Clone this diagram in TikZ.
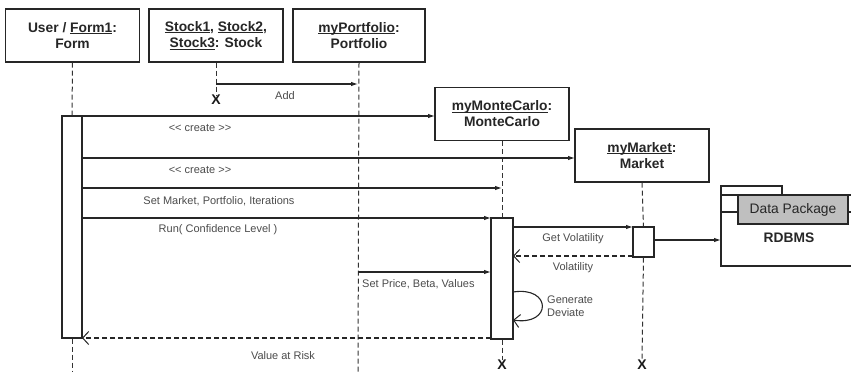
\documentclass[tikz,border=0pt]{standalone}
\usepackage{fontspec}
\setmainfont{Liberation Sans}
\usetikzlibrary{arrows.meta}
\newcommand\myul[1]{\setbox0\hbox{#1}\rlap{\rule[-1.6pt]{\wd0}{0.8pt}}\box0}
\begin{document}
\begin{tikzpicture}[x=1pt,y=-1pt,
  obj/.style={draw=black!85, line width=1.2pt, fill=white, align=center, inner sep=0pt,
    minimum width=134pt, minimum height=53pt, font=\bfseries\fontsize{13.8}{16}\selectfont, text=black!85},
  act/.style={draw=black!85, line width=1.2pt, fill=white, inner sep=0pt},
  life/.style={draw=black!80, line width=1pt, dash pattern=on 5pt off 3pt},
  call/.style={draw=black!85, line width=1.1pt, -{Latex[length=7pt,width=4.5pt]}},
  ret/.style={draw=black!85, line width=1.1pt, dash pattern=on 5pt off 3pt, -{Straight Barb[length=6pt,width=13pt,line width=1pt]}},
  lbl/.style={font=\fontsize{11}{12.5}\selectfont, text=black!70, inner sep=0pt},
  xmark/.style={font=\bfseries\fontsize{14}{14}\selectfont, inner sep=0pt, text=black!90}]
\useasboundingbox (0,0) rectangle (851,372);
\fill[white] (0,0) rectangle (851,372);

% objects
\node[obj] (user) at (72.5,35.5) {User / \myul{Form1}:\\Form};
\node[obj] (stock) at (216,35.5) {\myul{Stock1}, \myul{Stock2},\\\myul{Stock3}: Stock};
\node[obj, minimum width=132pt] (port) at (359,35.5) {\myul{myPortfolio}:\\Portfolio};
\node[obj] (mc) at (502,114) {\myul{myMonteCarlo}:\\MonteCarlo};
\node[obj] (mkt) at (642,155.5) {\myul{myMarket}:\\Market};

% activations
\node[act, minimum width=20pt, minimum height=222pt] (ua) at (72,227) {};
\node[act, minimum width=22pt, minimum height=121pt] (ma) at (502,278.5) {};
\node[act, minimum width=21pt, minimum height=30pt] (ka) at (643.5,242) {};

% X marks
\node[xmark] (sx) at (216,100) {X};
\node[xmark] (mcx) at (502,365) {X};
\node[xmark] (mkx) at (642,365) {X};

% coordinates
\coordinate (ubot) at (72,372);
\coordinate (pbot) at (358,372);
\coordinate (sAdd) at (216,84);
\coordinate (pAdd) at (358,84);
\coordinate (uc1) at (82,116);
\coordinate (mc1) at (435,116);
\coordinate (uc2) at (82,158);
\coordinate (mk2) at (575,158);
\coordinate (uc3) at (82,188);
\coordinate (mc3) at (502,188);
\coordinate (uc4) at (82,218);
\coordinate (mc4) at (491,218);
\coordinate (p5) at (358,272);
\coordinate (mc5) at (491,272);
\coordinate (mc6) at (513,227);
\coordinate (mk6) at (633,227);
\coordinate (mk7) at (633,256);
\coordinate (mc7) at (513,256);
\coordinate (la) at (513,292);
\coordinate (lb) at (513,320);
\coordinate (mc9) at (491,338);
\coordinate (uc9) at (82,338);

% lifelines
\draw[life] (user.south) -- (ua.north);
\draw[life] (ua.south) -- (ubot);
\draw[life] (stock.south) -- (sx.north);
\draw[life] (port.south) -- (pbot);
\draw[life] (mc.south) -- (ma.north);
\draw[life] (ma.south) -- (mcx.north);
\draw[life] (mkt.south) -- (ka.north);
\draw[life] (ka.south) -- (mkx.north);

% package
\draw[draw=black!85, line width=1.2pt, fill=white] (721,195) rectangle (853,266);
\draw[draw=black!85, line width=1.2pt, fill=white] (721,186) rectangle (782,195);
\coordinate (pkl) at (721,212);
\coordinate (pkr) at (853,212);
\draw[draw=black!85, line width=1.2pt] (pkl) -- (pkr);
\node[draw=black!85, line width=1.2pt, fill=black!25, inner sep=0pt, minimum width=110pt, minimum height=29pt,
  font=\fontsize{13.8}{15}\selectfont, text=black!85] (dp) at (793,209.5) {Data Package};
\node[font=\bfseries\fontsize{13.8}{15}\selectfont, text=black!85] (rdbms) at (789,238) {RDBMS};
\coordinate (pkin) at (721,240);

% messages
\draw[call] (sAdd) -- (pAdd);
\node[lbl] at (285,96) {Add};
\draw[call] (uc1) -- (mc1);
\node[lbl] at (200,128) {<{}< create >{}>};
\draw[call] (uc2) -- (mk2);
\node[lbl] at (200,170) {<{}< create >{}>};
\draw[call] (uc3) -- (mc3);
\node[lbl] at (219,201) {Set Market, Portfolio, Iterations};
\draw[call] (uc4) -- (mc4);
\node[lbl] at (218,230) {Run( Confidence Level )};
\draw[call] (p5) -- (mc5);
\node[lbl, anchor=west] at (362,284) {Set Price, Beta, Values};
\draw[call] (mc6) -- (mk6);
\node[lbl] at (573,239) {Get Volatility};
\draw[ret] (mk7) -- (mc7);
\node[lbl] at (573,268) {Volatility};
\draw[call] (ka.east |- pkin) -- (pkin);
\draw[draw=black!85, line width=1.1pt, -{Straight Barb[length=6pt,width=13pt,line width=1pt]}]
  (la) .. controls (552,286) and (552,326) .. (lb);
\node[lbl, align=left, anchor=west] at (547,306) {Generate\\Deviate};
\draw[ret] (mc9) -- (uc9);
\node[lbl] at (283,356) {Value at Risk};
\end{tikzpicture}
\end{document}
